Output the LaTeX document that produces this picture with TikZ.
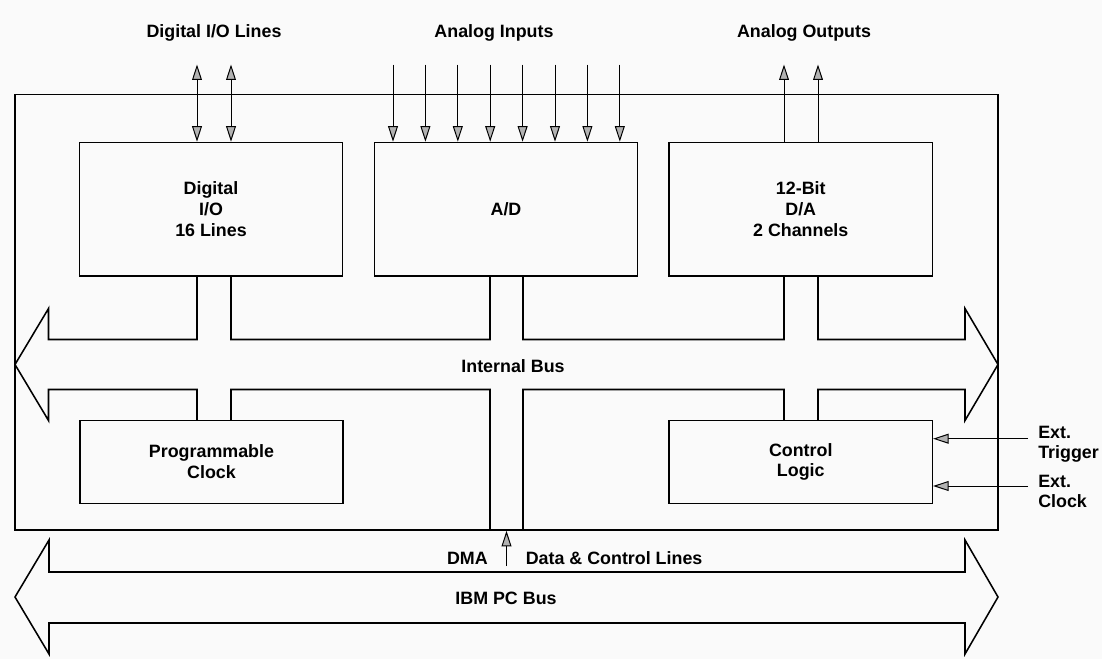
\documentclass[tikz,border=0pt]{standalone}
\usepackage{fontspec}
\setmainfont{Liberation Sans}
\usetikzlibrary{arrows.meta}

\begin{document}
\begin{tikzpicture}[x=0.025cm,y=-0.025cm,
      >={Triangle[length=11pt,width=7pt,fill=gray!60]},
      blk/.style={draw,line width=1.1pt,minimum width=6.575cm,align=center,
                  font=\fontsize{12.7pt}{14.8pt}\selectfont\bfseries},
      lbl/.style={inner sep=0pt,align=left,font=\fontsize{12.7pt}{14.2pt}\selectfont\bfseries},
      sig/.style={->,line width=0.7pt},
      bus/.style={line width=1.1pt,line join=miter}]
    \fill[black!2] (0,0) rectangle (1102,659);
    % board outline
    \node[draw,line width=1.1pt,inner sep=0pt,minimum width=24.575cm,minimum height=10.8875cm] (board) at (506.5,312.25) {};
    % upper row
    \node[blk,minimum height=3.3375cm] (dio) at (211,209.25) {Digital\\I/O\\16 Lines};
    \node[blk,minimum height=3.3375cm] (ad) at (506,209.25) {A/D};
    \node[blk,minimum height=3.3375cm] (da) at (800.75,209.25) {12-Bit\\D/A\\2 Channels};
    % lower row
    \node[blk,minimum height=2.075cm] (clk) at (211.5,462) {Programmable\\Clock};
    \node[blk,minimum height=2.075cm] (ctl) at (800.75,462) {Control\\Logic};
    % internal bus
    \draw[bus] (197,276) -- (197,339.5) -- (48.5,339.5) -- (48.5,308.5) -- (15,364.5) -- (48.5,420.5)
          -- (48.5,389.5) -- (197,389.5) -- (197,420.5)
      (231,276) -- (231,339.5) -- (490,339.5) -- (490,276)
      (523,276) -- (523,339.5) -- (784,339.5) -- (784,276)
      (818,276) -- (818,339.5) -- (965,339.5) -- (965,308.5) -- (998,364.5) -- (965,420.5)
          -- (965,389.5) -- (818,389.5) -- (818,420.5)
      (784,420.5) -- (784,389.5) -- (523,389.5) -- (523,530)
      (490,530) -- (490,389.5) -- (231,389.5) -- (231,420.5);
    % IBM PC bus
    \draw[bus] (49,572) -- (965,572) -- (965,540) -- (998,597) -- (965,654) -- (965,623)
      -- (49,623) -- (49,654) -- (15,597) -- (49,540) -- cycle;
    % external lines
    \foreach \x [count=\i] in {197,231} {
      \coordinate (dl\i) at (\x,64.5);
      \draw[<->,line width=0.7pt] (dl\i) -- (dl\i |- dio.north);
    }
    \foreach \i in {0,...,7} {
      \coordinate (ai\i) at (393+32.4*\i,64.5);
      \draw[sig] (ai\i) -- (ai\i |- ad.north);
    }
    \foreach \x [count=\i] in {784,818} {
      \coordinate (ao\i) at (\x,64.5);
      \draw[sig] (ao\i |- da.north) -- (ao\i);
    }
    \coordinate (etrg) at (1028,438.7);
    \coordinate (eclk) at (1028,486);
    \draw[sig] (etrg) -- (etrg -| ctl.east);
    \draw[sig] (eclk) -- (eclk -| ctl.east);
    \coordinate (dmat) at (506.5,566);
    \draw[sig] (dmat) -- (dmat |- board.south);
    % labels
    \node[lbl] (diol) at (214,33) {Digital I/O Lines};
    \node[lbl] (ainl) at (494,33) {Analog Inputs};
    \node[lbl] (aoutl) at (804,33) {Analog Outputs};
    \node[lbl] (ibus) at (513,366) {Internal Bus};
    \node[lbl,anchor=west] (trgl) at (1038,444) {Ext.\\Trigger};
    \node[lbl,anchor=west] (clkl) at (1038,491.5) {Ext.\\Clock};
    \node[lbl,anchor=east] (dmal) at (488,558.5) {DMA};
    \node[lbl,anchor=west] (dcl) at (525.5,558.5) {Data \& Control Lines};
    \node[lbl] (ibm) at (506,598) {IBM PC Bus};
  \end{tikzpicture}
\end{document}
